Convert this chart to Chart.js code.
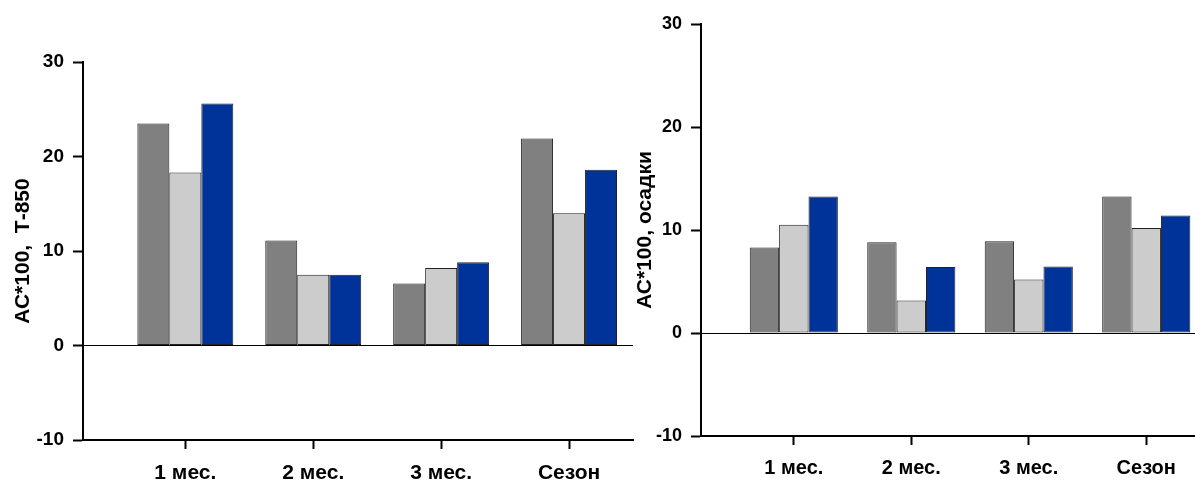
<!DOCTYPE html>
<html>
<head>
<meta charset="utf-8">
<script src="https://cdn.jsdelivr.net/npm/chart.js@4"></script>
<style>
    html, body { margin: 0; padding: 0; background: #fff; overflow: hidden; width: 1195px; height: 480px; }
    canvas { position: absolute; top: 0; }
    #left { left: 0; }
    #right { left: 620px; }
</style>
</head>
<body>
<canvas id="left" width="640" height="480"></canvas>
<canvas id="right" width="600" height="480"></canvas>
<script>
// данные
var categories = ['1 мес.', '2 мес.', '3 мес.', 'Сезон'];
var yTicks = [-10, 0, 10, 20, 30];

var t850Gray  = [23.5, 11.1, 6.55, 21.9];
var t850Light = [18.3, 7.5, 8.2, 14.0];
var t850Blue  = [25.6, 7.5, 8.8, 18.6];

var precipGray  = [8.3, 8.8, 8.9, 13.25];
var precipLight = [10.5, 3.15, 5.2, 10.2];
var precipBlue  = [13.25, 6.4, 6.45, 11.4];

var colors = ['#808080', '#cccccc', '#003399'];
var font = 'Liberation Sans, Arial, sans-serif';

function points(values) {
    return values.map(function (v, i) {
        return { x: i + 1, y: v };
    });
}

function build(id, series, title, opt) {
    var datasets = series.map(function (values, k) {
        return {
            label: 'Ряд ' + (k + 1),
            data: points(values),
            backgroundColor: colors[k],
            borderColor: '#222',
            borderWidth: 1,
            borderSkipped: false,
            categoryPercentage: 0.75,
            barPercentage: 1
        };
    });

    new Chart(document.getElementById(id), {
        type: 'bar',
        data: { datasets: datasets },
        options: {
            responsive: false,
            animation: false,
            layout: { padding: { left: opt.padLeft, top: opt.top, right: opt.padRight, bottom: 0 } },
            plugins: { legend: { display: false }, tooltip: { enabled: false } },
            scales: {
                x: {
                    type: 'linear',
                    min: opt.xMin,
                    max: 4.5,
                    offset: false,
                    afterBuildTicks: function (scale) {
                        scale.ticks = categories.map(function (c, i) { return { value: i + 1 }; });
                    },
                    afterFit: function (scale) { scale.height = opt.xHeight; },
                    grid: { offset: false, drawOnChartArea: false, drawTicks: true, tickLength: 9, tickColor: '#000', tickWidth: 2 },
                    border: { display: true, color: '#000', width: 2 },
                    ticks: {
                        autoSkip: false,
                        maxRotation: 0,
                        padding: opt.xPad,
                        color: '#000',
                        font: { family: font, size: opt.xFont, weight: 'bold' },
                        callback: function (value) { return categories[value - 1]; }
                    }
                },
                y: {
                    min: -10,
                    max: 30,
                    afterBuildTicks: function (scale) {
                        scale.ticks = yTicks.map(function (v) { return { value: v }; });
                    },
                    afterFit: function (scale) { scale.width = opt.yWidth; },
                    grid: {
                        drawOnChartArea: true,
                        drawTicks: true,
                        tickLength: 10,
                        tickColor: '#000',
                        tickWidth: 2,
                        lineWidth: 1,
                        color: function (ctx) { return ctx.tick && ctx.tick.value === 0 ? '#000' : 'rgba(0,0,0,0)'; }
                    },
                    border: { display: true, color: '#000', width: 2 },
                    ticks: {
                        padding: 9,
                        color: '#000',
                        font: { family: font, size: opt.yFont, weight: 'bold' }
                    },
                    title: {
                        display: true,
                        text: title,
                        color: '#000',
                        padding: 0,
                        font: { family: font, size: 21, weight: 'bold' }
                    }
                }
            }
        }
    });
}

build('left', [t850Gray, t850Light, t850Blue], 'АС*100,  Т-850',
    { padLeft: 11, padRight: 7, top: 62, yWidth: 72, xHeight: 40, xMin: 0.2, xPad: 12, xFont: 21, yFont: 19 });

build('right', [precipGray, precipLight, precipBlue], 'АС*100, осадки',
    { padLeft: 13, padRight: 15, top: 24, yWidth: 68, xHeight: 44, xMin: 0.21, xPad: 11, xFont: 20, yFont: 18 });
</script>
</body>
</html>
